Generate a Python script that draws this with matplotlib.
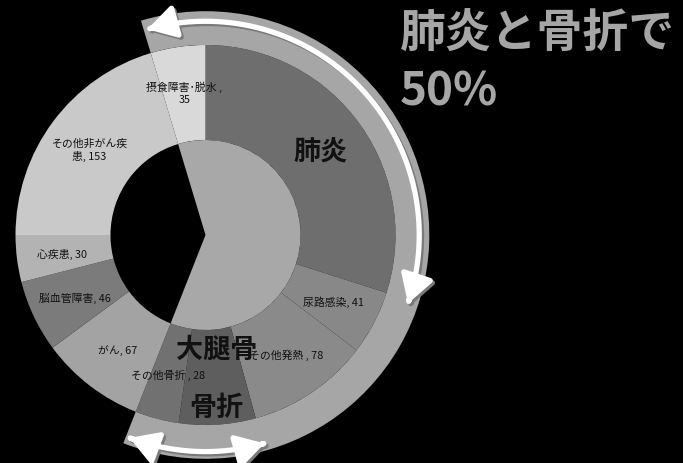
import numpy as np
import matplotlib
matplotlib.use("Agg")
import matplotlib.pyplot as plt
from matplotlib.patches import Wedge, FancyArrowPatch, ArrowStyle
from matplotlib.path import Path
from matplotlib.transforms import ScaledTranslation

plt.rcParams['font.family'] = ['Noto Sans CJK JP', 'DejaVu Sans']

# Categories in clockwise order starting at 12 o'clock
categories = ["肺炎", "尿路感染", "その他発熱", "大腿骨", "その他骨折",
              "がん", "脳血管障害", "心疾患", "その他非がん疾患", "摂食障害・脱水"]
counts = [225, 41, 78, 49, 28, 67, 46, 30, 153, 35]
slice_colors = ["#6e6e6e", "#888888", "#8a8a8a", "#5e5e5e", "#717171",
                "#a3a3a3", "#7b7b7b", "#b3b3b3", "#c9c9c9", "#d9d9d9"]

# Data label text for the smaller slices
value_labels = {
    "尿路感染": "尿路感染, 41",
    "その他発熱": "その他発熱 , 78",
    "その他骨折": "その他骨折 , 28",
    "がん": "がん, 67",
    "脳血管障害": "脳血管障害, 46",
    "心疾患": "心疾患, 30",
    "その他非がん疾患": "その他非がん疾\n患, 153",
    "摂食障害・脱水": "摂食障害･脱水 ,\n35",
}
title_lines = ["肺炎と骨折で", "50%"]

W, H = 683, 464
cx_px, cy_px, R_px = 205.5, 236.0, 190.0

fig = plt.figure(figsize=(W / 100, H / 100), dpi=100, facecolor="black")
ax = fig.add_axes([0, 0, 1, 1])
ax.set_facecolor("black")

ax.pie(counts, colors=slice_colors, startangle=90, counterclock=False,
       radius=1.0, wedgeprops=dict(width=0.5, linewidth=0))

ax.set_xlim(-cx_px / R_px, (W - cx_px) / R_px)
ax.set_ylim(-(H - cy_px) / R_px, cy_px / R_px)
ax.set_aspect("equal", adjustable="box")
ax.axis("off")

vals = np.array(counts, dtype=float)
total = vals.sum()
bounds = 90 - np.concatenate([[0], np.cumsum(vals)]) * 360 / total
mids = (bounds[:-1] + bounds[1:]) / 2
idx = {c: i for i, c in enumerate(categories)}

# Highlight span: from the end of その他骨折 counter-clockwise to the start of 摂食障害・脱水
span_lo = bounds[idx["その他骨折"] + 1]
span_hi = bounds[idx["摂食障害・脱水"]] + 360

ax.add_patch(Wedge((0, 0), 0.5, span_lo, span_hi, facecolor="#a8a8a8",
                   linewidth=0, zorder=3))
ax.add_patch(Wedge((0, 0), 1.178, span_lo, span_hi, width=0.178,
                   facecolor="#a6a6a6", linewidth=0, zorder=3))


def arc_arrow(a_start, a_end, r):
    t = np.radians(np.linspace(a_start, a_end, 200))
    path = Path(np.column_stack([r * np.cos(t), r * np.sin(t)]))
    style = ArrowStyle("<|-|>", head_length=0.85, head_width=0.5)
    shift = ScaledTranslation(1.6 / 72, -1.6 / 72, fig.dpi_scale_trans)
    shadow = FancyArrowPatch(path=path, arrowstyle=style, mutation_scale=20,
                             color="#7a7a7a", lw=3.8, shrinkA=0, shrinkB=0,
                             transform=ax.transData + shift, zorder=4)
    ax.add_patch(shadow)
    arrow = FancyArrowPatch(path=path, arrowstyle=style, mutation_scale=20,
                            color="white", lw=3.8, shrinkA=0, shrinkB=0,
                            zorder=5)
    ax.add_patch(arrow)


# 肺炎 arrow (top, clockwise down the right side)
arc_arrow(span_hi - 1.0, bounds[idx["肺炎"] + 1] - 1.0, 1.125)
# 骨折 arrow (bottom, spanning その他骨折 and 大腿骨)
arc_arrow(bounds[idx["その他骨折"] + 1] + 360 + 1.0, bounds[idx["大腿骨"]] + 360 + 0.5, 1.14)

# Value labels
for name, text in value_labels.items():
    a = np.radians(mids[idx[name]])
    ax.text(0.76 * np.cos(a), 0.76 * np.sin(a), text, ha="center", va="center",
            fontsize=7.8, color="#111111", linespacing=1.25, zorder=6)

# Bold category names
a = np.radians(mids[idx["肺炎"]])
ax.text(0.75 * np.cos(a), 0.75 * np.sin(a), "肺炎", ha="center", va="center",
        fontsize=19.5, fontweight="bold", color="#111111", zorder=7)
a = np.radians(mids[idx["大腿骨"]])
ax.text(0.6 * np.cos(a) + 0.02, 0.6 * np.sin(a), "大腿骨", ha="center", va="center",
        fontsize=19.5, fontweight="bold", color="#111111", zorder=7)
ax.text(0.9 * np.cos(a), 0.905 * np.sin(a), "骨折", ha="center", va="center",
        fontsize=19.5, fontweight="bold", color="#111111", zorder=7)

# Headline
fig.text(400 / W, 1 - 35 / H, title_lines[0], ha="left", va="center",
         fontsize=33, fontweight="bold", color="#a6a6a6")
fig.text(400 / W, 1 - 93 / H, title_lines[1], ha="left", va="center",
         fontsize=33, fontweight="bold", color="#a6a6a6")

fig.savefig("out.png", dpi=100, facecolor="black")
